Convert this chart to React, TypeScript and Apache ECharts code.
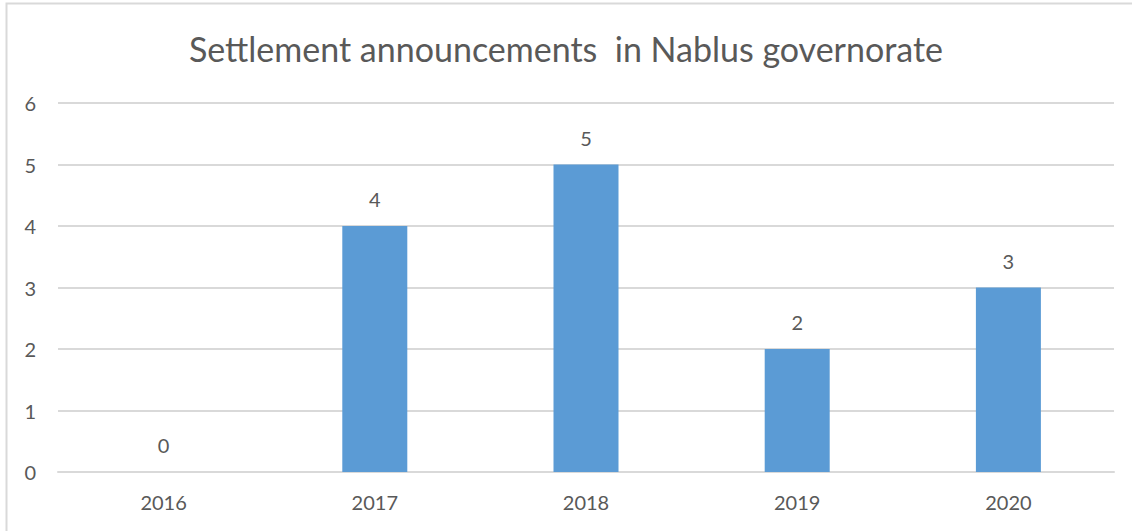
import React, { useEffect, useRef } from "react";
import * as echarts from "echarts";

const years = ["2016", "2017", "2018", "2019", "2020"];
const announcements = [0, 4, 5, 2, 3];
const titleText = "Settlement announcements  in Nablus governorate";

export default function App() {
  const ref = useRef<HTMLDivElement>(null);
  useEffect(() => {
    if (!ref.current) return;
    const chart = echarts.init(ref.current, undefined, { renderer: "svg" });
    const font = "Lato, sans-serif";
    chart.setOption({
      animation: false,
      backgroundColor: "#ffffff",
      title: {
        text: titleText,
        left: "center",
        top: 26,
        textStyle: { fontFamily: font, fontSize: 34, fontWeight: "normal", color: "#595959" },
      },
      graphic: [
        {
          type: "rect",
          shape: { x: 6.5, y: 3.5, width: 1140, height: 540 },
          style: { fill: "none", stroke: "#d9d9d9", lineWidth: 2 },
          silent: true,
        },
      ],
      grid: { left: 58, right: 18, top: 103, bottom: 59, containLabel: false },
      xAxis: {
        type: "category",
        data: years,
        axisLine: { lineStyle: { color: "#d9d9d9", width: 2 } },
        axisTick: { show: false },
        axisLabel: { color: "#595959", fontFamily: font, fontSize: 20, margin: 20 },
      },
      yAxis: {
        type: "value",
        min: 0,
        max: 6,
        interval: 1,
        axisLine: { show: false },
        axisTick: { show: false },
        splitLine: { lineStyle: { color: "#d9d9d9", width: 2 } },
        axisLabel: { color: "#595959", fontFamily: font, fontSize: 20, margin: 22 },
      },
      series: [
        {
          type: "bar",
          data: announcements,
          barWidth: 65,
          itemStyle: { color: "#5b9bd5" },
          label: {
            show: true,
            position: "top",
            distance: 17,
            color: "#595959",
            fontFamily: font,
            fontSize: 20,
          },
        },
      ],
    });
    return () => chart.dispose();
  }, []);
  return (
    <div
      ref={ref}
      style={{ position: "fixed", left: 0, top: 0, width: 1132, height: 531 }}
    />
  );
}
